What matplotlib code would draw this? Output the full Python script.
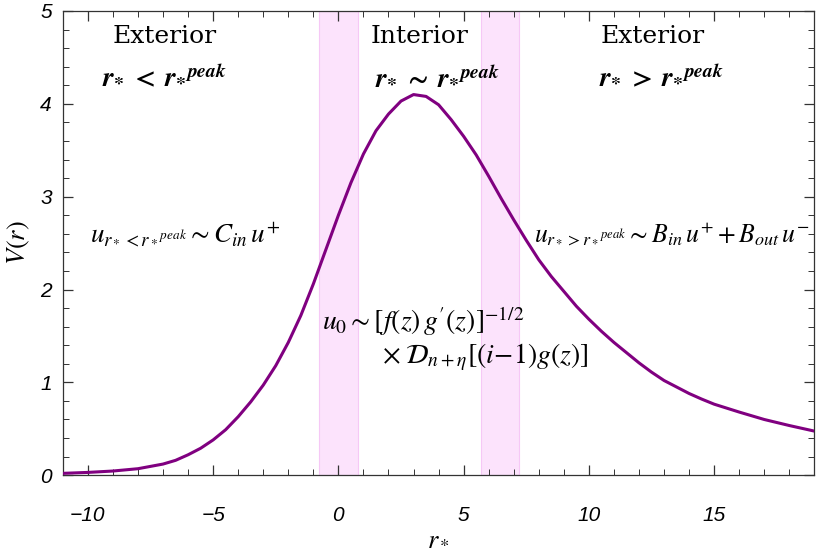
import numpy as np
import matplotlib
matplotlib.use("Agg")
import matplotlib.pyplot as plt
from matplotlib.ticker import MultipleLocator

plt.rcParams['mathtext.fontset'] = 'stix'

# potential
r_star = [-11, -10, -9, -8, -7, -6.5, -6, -5.5, -5, -4.5, -4, -3.5, -3, -2.5, -2, -1.5,
          -1, -0.5, 0, 0.5, 1, 1.5, 2, 2.5, 3, 3.5, 4, 4.5, 5, 5.5, 6, 6.5, 7, 7.5, 8,
          8.5, 9, 9.5, 10, 10.5, 11, 11.5, 12, 12.5, 13, 13.5, 14, 14.5, 15, 16, 17, 18, 19]
V = [0.02, 0.03, 0.045, 0.07, 0.12, 0.16, 0.22, 0.29, 0.38, 0.49, 0.63, 0.79, 0.97,
     1.18, 1.43, 1.72, 2.06, 2.43, 2.80, 3.15, 3.46, 3.71, 3.89, 4.03, 4.10, 4.08,
     3.99, 3.83, 3.65, 3.45, 3.22, 2.98, 2.75, 2.53, 2.32, 2.14, 1.98, 1.82, 1.68,
     1.55, 1.43, 1.32, 1.21, 1.11, 1.02, 0.95, 0.88, 0.82, 0.765, 0.68, 0.60, 0.535, 0.475]

# matching regions (shaded bands)
bands = [(-0.76, 0.79), (5.71, 7.22)]

x_ticks = [-10, -5, 0, 5, 10, 15]
x_labels = ['\u221210', '\u22125', '0', '5', '10', '15']
y_ticks = [0, 1, 2, 3, 4, 5]
y_labels = ['0', '1', '2', '3', '4', '5']

fig = plt.figure(figsize=(8.16, 5.5), dpi=100)
ax = fig.add_axes([0.077, 0.136, 0.921, 0.844])

for a, b in bands:
    ax.axvspan(a, b, facecolor='#fce3fc', edgecolor='#f6c8f6', lw=0.8, zorder=0)

ax.plot(r_star, V, color='#800080', lw=2.2, zorder=3, solid_joinstyle='round')

ax.set_xlim(-11, 19)
ax.set_ylim(0, 5)
tick_font = dict(family='Liberation Sans', style='italic', size=15)
ax.set_xticks(x_ticks, x_labels, **tick_font)
ax.set_yticks(y_ticks, y_labels, **tick_font)
ax.xaxis.set_minor_locator(MultipleLocator(1))
ax.yaxis.set_minor_locator(MultipleLocator(0.2))
ax.tick_params(which='both', direction='in', top=True, right=True, color='#333333')
ax.tick_params(which='major', length=7, width=0.9)
ax.tick_params(which='minor', length=4, width=0.7)
ax.tick_params(axis='x', which='major', pad=22)
ax.tick_params(axis='y', which='major', pad=8)
for s in ax.spines.values():
    s.set_color('#333333')
    s.set_linewidth(0.9)

ax.set_xlabel(r'$r_*$', fontsize=19, labelpad=0)
ax.set_ylabel(r'$V(r)$', fontsize=19, labelpad=6)

serif = 'DejaVu Serif'
ax.text(-6.95, 4.72, 'Exterior', fontsize=18, family=serif, ha='center', va='center')
ax.text(3.25, 4.72, 'Interior', fontsize=18, family=serif, ha='center', va='center')
ax.text(12.55, 4.72, 'Exterior', fontsize=18, family=serif, ha='center', va='center')

rb = r'\mathbfit{r}_{\mathbf{*}}'
ax.text(-6.95, 4.30, r'$' + rb + r'\;\mathbf{<}\;{' + rb + r'}^{\mathbfit{peak}}$',
        fontsize=20, ha='center', va='center')
ax.text(3.95, 4.30, r'$' + rb + r'\;\mathbf{\sim}\;{' + rb + r'}^{\mathbfit{peak}}$',
        fontsize=20, ha='center', va='center')
ax.text(12.9, 4.30, r'$' + rb + r'\;\mathbf{>}\;{' + rb + r'}^{\mathbfit{peak}}$',
        fontsize=20, ha='center', va='center')

ax.text(-9.9, 2.60, r'$u_{r_* < {r_*}^{peak}} \sim C_{in}\,u^{+}$', fontsize=19.5, ha='left', va='center')
ax.text(7.8, 2.60, r'$u_{r_* > {r_*}^{peak}} \sim B_{in}\,u^{+} + B_{out}\,u^{-}$', fontsize=18.5,
        ha='left', va='center')
ax.text(-0.65, 1.66, r"$u_0 \sim [f(z)\,g'(z)]^{-1/2}$", fontsize=20, ha='left', va='center')
ax.text(1.75, 1.27, r'$\times\;\mathcal{D}_{n+\eta}[(i\!-\!1)g(z)]$', fontsize=20, ha='left', va='center')

fig.savefig('out.png', dpi=100)
